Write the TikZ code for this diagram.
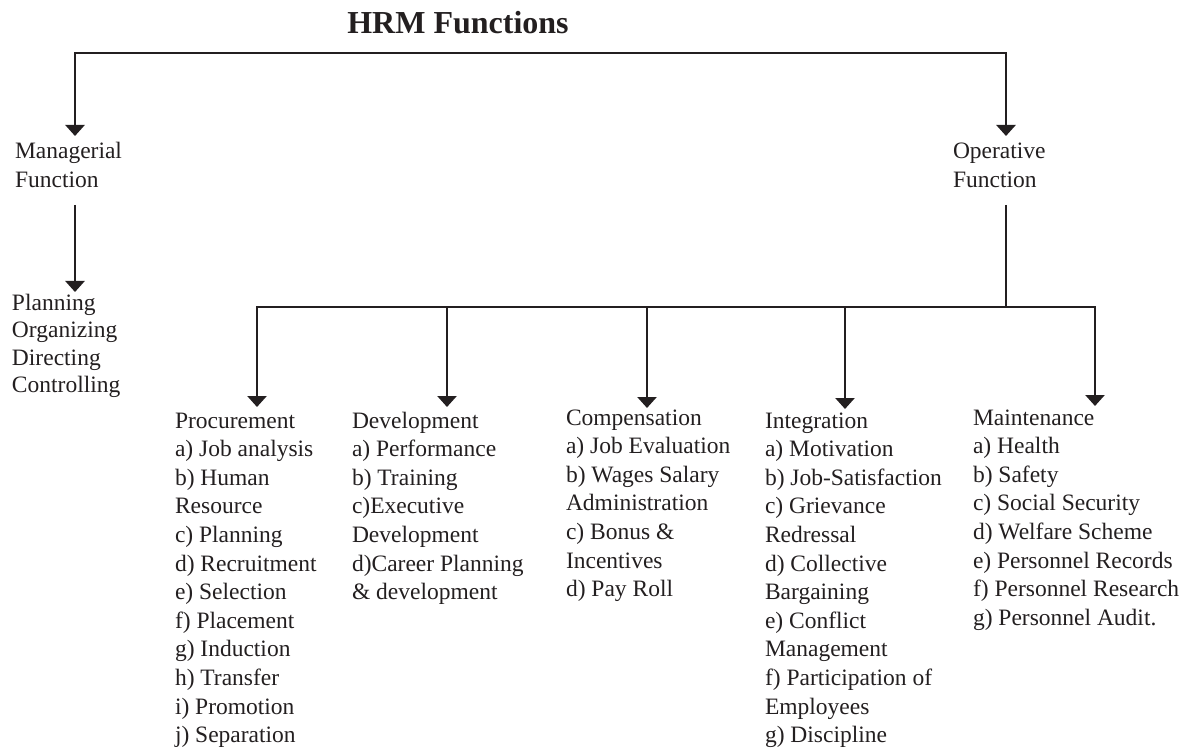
\documentclass[tikz,border=0pt]{standalone}
\usepackage{fontspec}
\setmainfont{Liberation Serif}
\usetikzlibrary{arrows.meta}
\definecolor{ink}{HTML}{231F20}
\begin{document}
\begin{tikzpicture}[x=1pt,y=-1pt,
  conn/.style={draw=ink,line width=2.7pt},
  tipshape/.tip={Triangle[width=19pt,length=11pt]},
  arr/.style={conn,-tipshape},
  lbl/.style={anchor=base west,inner sep=0pt,outer sep=0pt,align=left,text=ink,font=\fontsize{23.5}{28.6}\selectfont},
  ]
\useasboundingbox (0,0) rectangle (1188,751);
\node[anchor=base,inner sep=0pt,text=ink,font=\fontsize{32}{36}\selectfont\bfseries] (title) at (458,34) {HRM Functions};

% anchors are the baselines of the last lines
\node[lbl] (mgr) at (15,187.6) {Managerial\\Function};
\node[lbl] (opr) at (953,187.6) {Operative\\Function};
\node[lbl,font=\fontsize{23.5}{27.5}\selectfont] (plan) at (12,392.5) {Planning\\Organizing\\Directing\\Controlling};

\node[lbl] (pro) at (175,742.6) {Procurement\\a) Job analysis\\b) Human\\Resource\\c) Planning\\d) Recruitment\\e) Selection\\f) Placement\\g) Induction\\h) Transfer\\i) Promotion\\j) Separation};
\node[lbl] (dev) at (352,599.6) {Development\\a) Performance\\b) Training\\c)Executive\\Development\\d)Career Planning\\\& development};
\node[lbl] (com) at (566,596.6) {Compensation\\a) Job Evaluation\\b) Wages Salary\\Administration\\c) Bonus \&\\Incentives\\d) Pay Roll};
\node[lbl] (int) at (765,742.6) {Integration\\a) Motivation\\b) Job-Satisfaction\\c) Grievance\\Redressal\\d) Collective\\Bargaining\\e) Conflict\\Management\\f) Participation of\\Employees\\g) Discipline};
\node[lbl] (mai) at (973,625.2) {Maintenance\\a) Health\\b) Safety\\c) Social Security\\d) Welfare Scheme\\e) Personnel Records\\f) Personnel Research\\g) Personnel Audit.};

% coordinates
\coordinate (barL) at (75,53);
\coordinate (barR) at (1006,53);
\coordinate (mgrTip) at (75,136);
\coordinate (oprTip) at (1006,136);
\coordinate (mgrOut) at (75,205);
\coordinate (planTip) at (75,292);
\coordinate (oprOut) at (1006,205);
\coordinate (join) at (1006,307);
\coordinate (proTip) at (257,407);
\coordinate (devTip) at (447,407);
\coordinate (comTip) at (647,408);
\coordinate (intTip) at (845,409);
\coordinate (maiTip) at (1095,406);

\draw[conn,tipshape-tipshape] (mgrTip) -- (barL) -- (barR) -- (oprTip);
\draw[arr] (mgrOut) -- (planTip);
\draw[conn] (oprOut) -- (join);
\draw[arr] (join) -| (proTip);
\draw[arr] (join) -| (maiTip);
\draw[arr] (devTip |- join) -- (devTip);
\draw[arr] (comTip |- join) -- (comTip);
\draw[arr] (intTip |- join) -- (intTip);
\end{tikzpicture}
\end{document}
